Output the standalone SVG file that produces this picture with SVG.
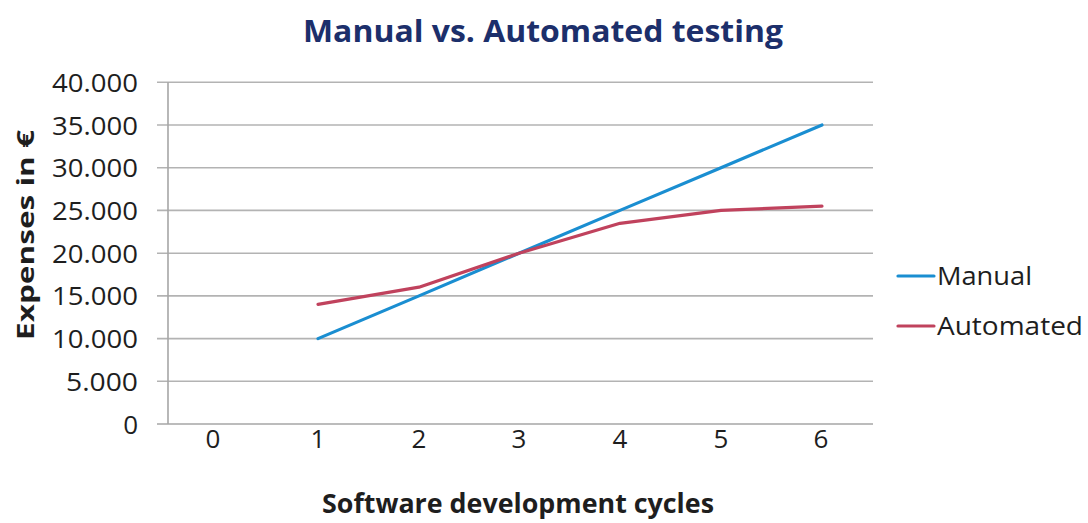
<svg xmlns="http://www.w3.org/2000/svg" width="1088" height="523" viewBox="0 0 1088 523">
<style>
.grid{stroke:#b3b3b3;stroke-width:1.6;fill:none}
.axis{stroke:#a6a6a6;stroke-width:1.6;fill:none}
.tick{font-family:"Open Sans","Liberation Sans",sans-serif;font-size:26px;fill:#1e1e1e}
.ytick{text-anchor:end}
.xtick{text-anchor:middle}
.ttl{font-family:"Open Sans","Liberation Sans",sans-serif;font-weight:bold;fill:#1e1e1e}
.series{fill:none;stroke-width:3.2;stroke-linejoin:round;stroke-linecap:round}
.manual{stroke:#1a8ed1}
.auto{stroke:#c0425d}
.leg{font-family:"Open Sans","Liberation Sans",sans-serif;font-size:26px;fill:#1e1e1e}
</style>
<rect width="1088" height="523" fill="#ffffff"/>
<g id="title">
<text x="543" y="42" text-anchor="middle" font-family="Open Sans, Liberation Sans, sans-serif" font-weight="bold" font-size="31" fill="#1c2f6b" textLength="480" lengthAdjust="spacingAndGlyphs">Manual vs. Automated testing</text>
</g>
<g id="gridlines">
<line class="grid" x1="157" y1="82.3" x2="873" y2="82.3"/>
<line class="grid" x1="157" y1="125" x2="873" y2="125"/>
<line class="grid" x1="157" y1="167.7" x2="873" y2="167.7"/>
<line class="grid" x1="157" y1="210.4" x2="873" y2="210.4"/>
<line class="grid" x1="157" y1="253.2" x2="873" y2="253.2"/>
<line class="grid" x1="157" y1="295.9" x2="873" y2="295.9"/>
<line class="grid" x1="157" y1="338.6" x2="873" y2="338.6"/>
<line class="grid" x1="157" y1="381.3" x2="873" y2="381.3"/>
<line class="axis" x1="157" y1="424" x2="873" y2="424"/>
<line class="axis" x1="168" y1="82.3" x2="168" y2="424"/>
</g>
<g id="y-axis-labels">
<text class="tick ytick" x="138" y="91.8" textLength="86" lengthAdjust="spacingAndGlyphs">40.000</text>
<text class="tick ytick" x="138" y="134.5" textLength="86" lengthAdjust="spacingAndGlyphs">35.000</text>
<text class="tick ytick" x="138" y="177.2" textLength="86" lengthAdjust="spacingAndGlyphs">30.000</text>
<text class="tick ytick" x="138" y="219.9" textLength="86" lengthAdjust="spacingAndGlyphs">25.000</text>
<text class="tick ytick" x="138" y="262.7" textLength="86" lengthAdjust="spacingAndGlyphs">20.000</text>
<text class="tick ytick" x="138" y="305.4" textLength="86" lengthAdjust="spacingAndGlyphs">15.000</text>
<text class="tick ytick" x="138" y="348.1" textLength="86" lengthAdjust="spacingAndGlyphs">10.000</text>
<text class="tick ytick" x="138" y="390.8" textLength="72" lengthAdjust="spacingAndGlyphs">5.000</text>
<text class="tick ytick" x="138" y="433.5">0</text>
</g>
<g id="x-axis-labels">
<text class="tick xtick" x="213" y="448">0</text>
<text class="tick xtick" x="318" y="448">1</text>
<text class="tick xtick" x="419" y="448">2</text>
<text class="tick xtick" x="519" y="448">3</text>
<text class="tick xtick" x="620" y="448">4</text>
<text class="tick xtick" x="721" y="448">5</text>
<text class="tick xtick" x="821" y="448">6</text>
</g>
<g id="axis-titles">
<text class="ttl" x="518" y="513" text-anchor="middle" font-size="26" textLength="392" lengthAdjust="spacingAndGlyphs">Software development cycles</text>
<text class="ttl" transform="translate(34,235) rotate(-90)" text-anchor="middle" font-size="24" textLength="210" lengthAdjust="spacingAndGlyphs">Expenses in €</text>
</g>
<g id="connectors">
<polyline id="manual-series" class="series manual" points="318,338.6 419,295.9 519,253.2 620,210.4 721,167.7 822,125"/>
<polyline id="automated-series" class="series auto" points="318,304.3 419,287.2 519,253.2 620,223.3 721,210.4 822,206.2"/>
</g>
<g id="legend">
<line class="series manual" x1="898" y1="276" x2="934" y2="276" stroke-linecap="butt"/>
<text class="leg" x="937" y="285" textLength="95" lengthAdjust="spacingAndGlyphs">Manual</text>
<line class="series auto" x1="898" y1="326" x2="934" y2="326" stroke-linecap="butt"/>
<text class="leg" x="937" y="335" textLength="146" lengthAdjust="spacingAndGlyphs">Automated</text>
</g>
</svg>
